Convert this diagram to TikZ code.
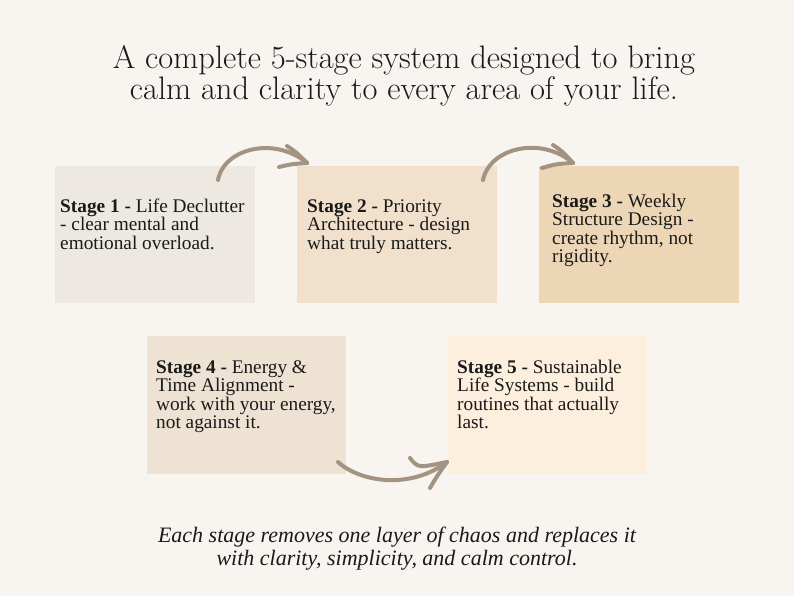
\documentclass[tikz,border=0pt]{standalone}
\usepackage{fontspec}
\setmainfont{Liberation Serif}
\newfontfamily\titlefont{Latin Modern Roman}
\definecolor{bgc}{HTML}{F8F5F0}
\definecolor{boxa}{HTML}{EDE9E2}
\definecolor{boxb}{HTML}{F0E0CC}
\definecolor{boxc}{HTML}{EDD6B6}
\definecolor{boxd}{HTML}{EEE2D3}
\definecolor{boxe}{HTML}{FDEFDE}
\definecolor{arrc}{HTML}{A29382}
\definecolor{txt}{HTML}{1A1A1A}
\tikzset{
  stagebox/.style={fill=#1, draw=none},
  stagetext/.style={anchor=base west, inner sep=0pt, text=txt, font=\fontsize{19.3}{18.6}\selectfont},
  curvy/.style={draw=arrc, line width=4pt, line cap=round, line join=round},
}
\begin{document}
\begin{tikzpicture}[x=1pt,y=-1pt]
\fill[bgc] (0,0) rectangle (794,596);
\useasboundingbox (0,0) rectangle (794,596);

\node[anchor=base, inner sep=0pt, text=txt] (title) at (404,69)
  {\parbox[t]{760pt}{\centering\titlefont\fontsize{32.5}{28.5}\selectfont
   A complete 5-stage system designed to bring\\ calm and clarity to every area of your life.}};

\fill[stagebox=boxa] (55,166) rectangle (255,303);
\fill[stagebox=boxb] (297,166) rectangle (497,303);
\fill[stagebox=boxc] (539,166) rectangle (739,303);
\fill[stagebox=boxd] (147,336) rectangle (346,474);
\fill[stagebox=boxe] (448,336) rectangle (647,474);

\node[stagetext] (s1) at (60,212) {\parbox[t]{195pt}{\raggedright\textbf{Stage 1 -} Life Declutter\\- clear mental and\\emotional overload.}};
\node[stagetext] (s2) at (307,212) {\parbox[t]{190pt}{\raggedright\textbf{Stage 2 -} Priority\\Architecture - design\\what truly matters.}};
\node[stagetext] (s3) at (552,207) {\parbox[t]{185pt}{\raggedright\textbf{Stage 3 -} Weekly\\Structure Design -\\create rhythm, not\\rigidity.}};
\node[stagetext] (s4) at (156,373) {\parbox[t]{190pt}{\raggedright\textbf{Stage 4 -} Energy \&\\Time Alignment -\\work with your energy,\\not against it.}};
\node[stagetext] (s5) at (457,373) {\parbox[t]{190pt}{\raggedright\textbf{Stage 5 -} Sustainable\\Life Systems - build\\routines that actually\\last.}};

% arrows
\coordinate (a1s) at (218,180);
\coordinate (a1t) at (307,163);
\coordinate (a1u) at (287,146);
\coordinate (a1l) at (279,167);
\draw[curvy] (a1s) .. controls (224,148) and (275,136) .. (a1t);
\draw[curvy] (a1u) .. controls (296,152) .. (a1t);
\draw[curvy] (a1l) .. controls (292,164) .. (a1t);

\coordinate (a2s) at (483,180);
\coordinate (a2t) at (573,163);
\coordinate (a2u) at (553,145);
\coordinate (a2l) at (542,168);
\draw[curvy] (a2s) .. controls (490,147) and (542,136) .. (a2t);
\draw[curvy] (a2u) .. controls (562,151) .. (a2t);
\draw[curvy] (a2l) .. controls (556,164) .. (a2t);

\coordinate (a3s) at (338,462);
\coordinate (a3t) at (447,462);
\coordinate (a3u) at (410,458);
\coordinate (a3l) at (430,488);
\draw[curvy] (a3s) .. controls (360,482) and (410,490) .. (a3t);
\draw[curvy] (a3u) .. controls (418,468) .. (a3t);
\draw[curvy] (a3l) .. controls (437,476) .. (a3t);

\node[anchor=base, inner sep=0pt, text=txt] (foot) at (397,542)
  {\parbox[t]{760pt}{\centering\itshape\fontsize{22}{23.5}\selectfont
   Each stage removes one layer of chaos and replaces it\\ with clarity, simplicity, and calm control.}};
\end{tikzpicture}
\end{document}
